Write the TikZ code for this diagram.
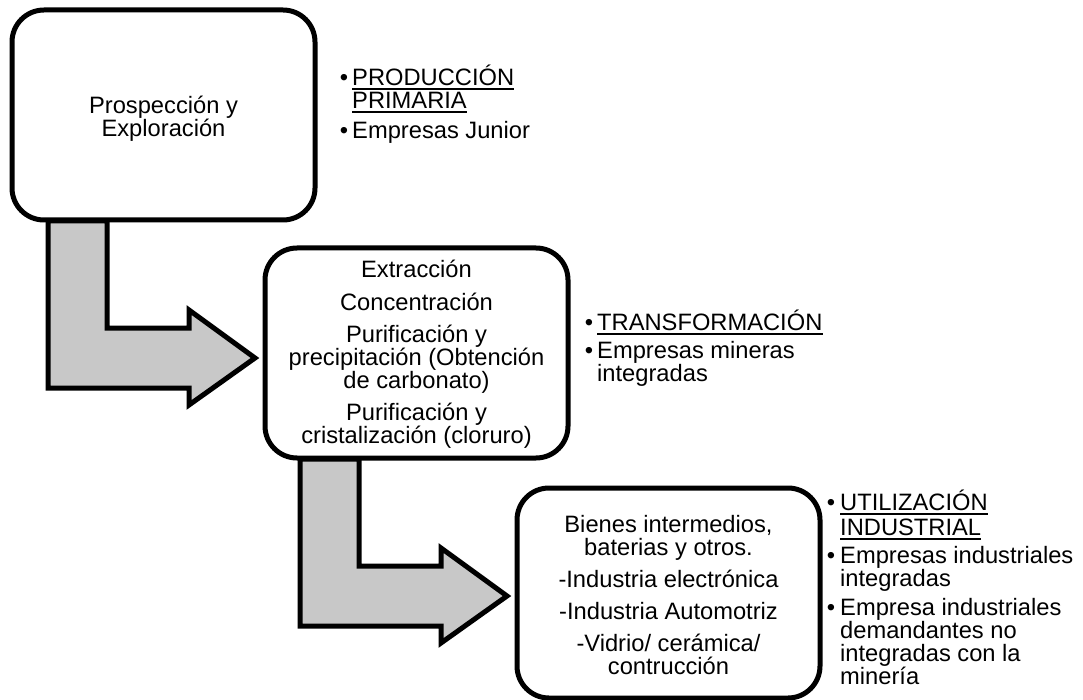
\documentclass[tikz,border=0pt]{standalone}
\usepackage{fontspec}
\setmainfont{Liberation Sans}
\definecolor{arrowgray}{RGB}{200,200,200}
\begin{document}
\begin{tikzpicture}[x=1pt,y=-1pt,
  box/.style={draw=black, line width=5pt, fill=white, rounded corners=32pt, inner sep=0pt, minimum width=303pt, minimum height=210pt},
  blockarrow/.style={draw=black, line width=5pt, fill=arrowgray, line join=miter, miter limit=10},
  txt/.style={font=\fontsize{23.7pt}{24pt}\selectfont, inner sep=0pt, text=black},
  ctr/.style={txt, anchor=base},
  lft/.style={txt, anchor=base west},
  bul/.style={txt, anchor=base},
  ul/.style={line width=1.6pt, black}]
\useasboundingbox (0,0) rectangle (1083,700);

% block arrows (drawn first, boxes cover their tops)
\draw[blockarrow] (48,221) -- (107,221) -- (107,328) -- (189,328) -- (189,310)
  -- (255,358) -- (189,405) -- (189,388) -- (48,388) -- cycle;
\draw[blockarrow] (300,459) -- (359,459) -- (359,566) -- (441,566) -- (441,548)
  -- (507,596) -- (441,643) -- (441,626) -- (300,626) -- cycle;

% boxes
\node[box] (b1) at (163.5,115) {};
\node[box] (b2) at (416.5,353) {};
\node[box] (b3) at (668.5,593) {};

% box 1 text
\node[ctr] (t1a) at (163.5,113.5) {Prospección y};
\node[ctr] (t1b) at (163.5,136.5) {Exploración};

% box 2 text
\node[ctr] (t2a) at (416.5,278) {Extracción};
\node[ctr] (t2b) at (416.5,310) {Concentración};
\node[ctr] (t2c) at (416.5,342) {Purificación y};
\node[ctr] (t2d) at (416.5,365) {precipitación (Obtención};
\node[ctr] (t2e) at (416.5,388) {de carbonato)};
\node[ctr] (t2f) at (416.5,420) {Purificación y};
\node[ctr] (t2g) at (416.5,443) {cristalización (cloruro)};

% box 3 text
\node[ctr] (t3a) at (668.5,532) {Bienes intermedios,};
\node[ctr] (t3b) at (668.5,555) {baterias y otros.};
\node[ctr] (t3c) at (668.5,587) {-Industria electrónica};
\node[ctr] (t3d) at (668.5,619) {-Industria Automotriz};
\node[ctr] (t3e) at (668.5,651) {-Vidrio/ cerámica/};
\node[ctr] (t3f) at (668.5,674) {contrucción};

% bullets group 1
\node[bul] (g1b1) at (344,85.5) {•};
\node[lft] (g1a) at (352,85.5) {PRODUCCIÓN};
\node[lft] (g1b) at (352,108.5) {PRIMARIA};
\draw[ul] ([yshift=-3.5pt]g1a.base west) -- ([yshift=-3.5pt]g1a.base east);
\draw[ul] ([yshift=-3.5pt]g1b.base west) -- ([yshift=-3.5pt]g1b.base east);
\node[bul] (g1b2) at (344,138.5) {•};
\node[lft] (g1c) at (352,138.5) {Empresas Junior};

% bullets group 2
\node[bul] (g2b1) at (589,330.5) {•};
\node[lft] (g2a) at (597,330.5) {TRANSFORMACIÓN};
\draw[ul] ([yshift=-3.5pt]g2a.base west) -- ([yshift=-3.5pt]g2a.base east);
\node[bul] (g2b2) at (589,358.5) {•};
\node[lft] (g2b) at (597,358.5) {Empresas mineras};
\node[lft] (g2c) at (597,381.5) {integradas};

% bullets group 3
\node[bul] (g3b1) at (831,510.5) {•};
\node[lft] (g3a) at (840,510.5) {UTILIZACIÓN};
\node[lft] (g3b) at (840,535.5) {INDUSTRIAL};
\draw[ul] ([yshift=-3.5pt]g3a.base west) -- ([yshift=-3.5pt]g3a.base east);
\draw[ul] ([yshift=-3.5pt]g3b.base west) -- ([yshift=-3.5pt]g3b.base east);
\node[bul] (g3b2) at (831,563.5) {•};
\node[lft] (g3c) at (840,563.5) {Empresas industriales};
\node[lft] (g3d) at (840,586) {integradas};
\node[bul] (g3b3) at (831,615.5) {•};
\node[lft] (g3e) at (840,615.5) {Empresa industriales};
\node[lft] (g3f) at (840,638) {demandantes no};
\node[lft] (g3g) at (840,661) {integradas con la};
\node[lft] (g3h) at (840,684) {minería};
\end{tikzpicture}
\end{document}
